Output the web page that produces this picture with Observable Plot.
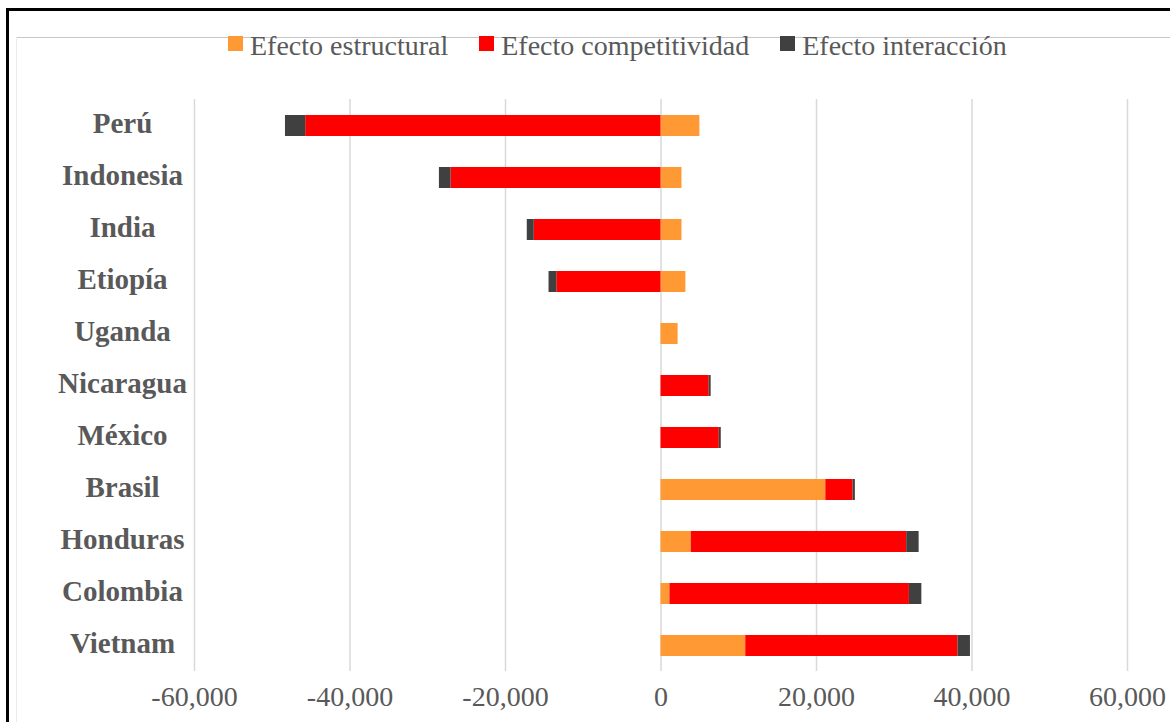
<!DOCTYPE html>
<html>
<head>
<meta charset="utf-8">
<script src="https://cdn.jsdelivr.net/npm/d3@7"></script>
<script src="https://cdn.jsdelivr.net/npm/@observablehq/plot@0.6"></script>
<style>
  html, body { margin: 0; padding: 0; background: #fff; }
  #frame { position: relative; width: 1170px; height: 722px; overflow: hidden; background: #fff; }
  .line { position: absolute; }
  #legend { position: absolute; top: 30px; left: 228px; display: flex; align-items: center; gap: 31px;
            font-family: "Liberation Serif", "Times New Roman", serif; font-size: 28px; color: #595959; white-space: nowrap; }
  #legend .item { display: flex; align-items: center; }
  #legend .sw { width: 15px; height: 15px; margin-right: 7px; margin-top: -5px; }
  #chart { position: absolute; top: 70px; left: 0; }
</style>
</head>
<body>
<div id="frame">
  <div class="line" style="left:6px; top:8px; width:1164px; height:3px; background:#000;"></div>
  <div class="line" style="left:6px; top:8px; width:3px; height:714px; background:#000;"></div>
  <div class="line" style="left:16px; top:37px; width:1154px; height:1px; background:#c6c6c6;"></div>
  <div class="line" style="left:16px; top:37px; width:1px; height:685px; background:#ececec;"></div>
  <div id="legend"></div>
  <div id="chart"></div>
</div>
<script>
// Data
const paises = ["Perú", "Indonesia", "India", "Etiopía", "Uganda", "Nicaragua", "México", "Brasil", "Honduras", "Colombia", "Vietnam"];
const estructural    = [5000, 2700, 2700, 3200, 2200, 0, 0, 21200, 3900, 1150, 10900];
const competitividad = [-45700, -27000, -16300, -13400, 0, 6200, 7500, 3500, 27700, 30800, 27300];
const interaccion    = [-2600, -1500, -900, -1000, 0, 250, 250, 300, 1600, 1600, 1600];
const series = ["Efecto estructural", "Efecto competitividad", "Efecto interacción"];
const colores = ["#FF9933", "#FF0000", "#404040"];
const xTicks = [-60000, -40000, -20000, 0, 20000, 40000, 60000];

const valores = [estructural, competitividad, interaccion];
const rows = [];
series.forEach((s, si) => {
  paises.forEach((p, pi) => rows.push({pais: p, serie: s, valor: valores[si][pi]}));
});

// Legend
const legend = document.getElementById("legend");
series.forEach((s, i) => {
  const it = document.createElement("div");
  it.className = "item";
  const sw = document.createElement("span");
  sw.className = "sw";
  sw.style.background = colores[i];
  const tx = document.createElement("span");
  tx.textContent = s;
  it.appendChild(sw); it.appendChild(tx);
  legend.appendChild(it);
});

const fmt = d => d.toLocaleString("en-US");

const chart = Plot.plot({
  width: 1170,
  height: 652,
  marginTop: 29,
  marginBottom: 51,
  marginLeft: 194,
  marginRight: 43,
  style: {fontFamily: "Liberation Serif, 'Times New Roman', serif", background: "transparent", color: "#595959"},
  x: {domain: [-60000, 60000]},
  y: {domain: paises, paddingInner: 0.6, paddingOuter: 0.3},
  color: {domain: series, range: colores},
  marks: [
    Plot.ruleX(xTicks, {stroke: "#d9d9d9", strokeWidth: 1.5}),
    Plot.barX(rows, Plot.stackX({
      x: "valor", y: "pais", fill: "serie",
      order: series
    })),
    Plot.axisX({ticks: xTicks, tickFormat: fmt, tickSize: 0, tickPadding: 15, fontSize: 28, fill: "#595959", label: null}),
    Plot.axisY({tickSize: 0, tickPadding: 72, textAnchor: "middle", fontSize: 29, fontWeight: "bold", fill: "#595959", label: null, dy: -2})
  ]
});
document.getElementById("chart").appendChild(chart);
</script>
</body>
</html>
